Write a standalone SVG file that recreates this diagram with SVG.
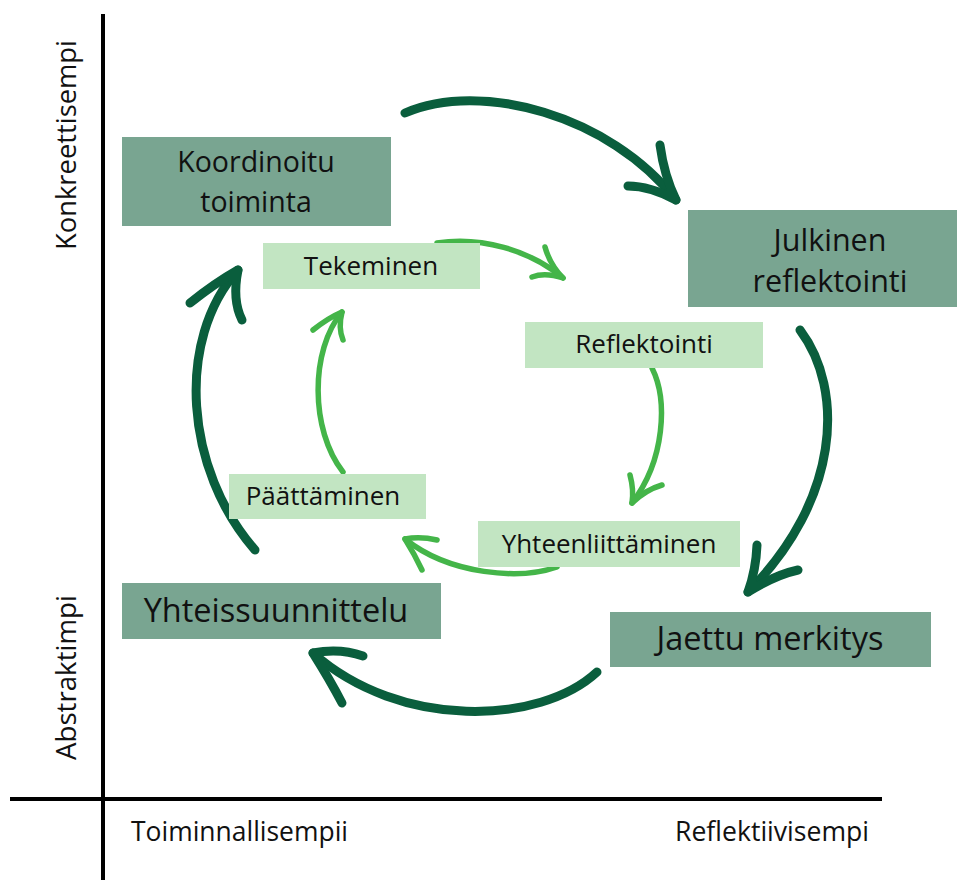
<svg xmlns="http://www.w3.org/2000/svg" width="957" height="880" viewBox="0 0 957 880">
<style>
.dark{fill:#79a591}
.light{fill:#c2e5c2}
.t{font-family:"Open Sans","Liberation Sans",sans-serif;fill:#111;text-anchor:middle}
.ax{font-family:"Open Sans","Liberation Sans",sans-serif;fill:#111;font-size:27px}
.ca{fill:none;stroke:#0a5e3d;stroke-width:9;stroke-linecap:round;stroke-linejoin:round}
.la{fill:none;stroke:#44b549;stroke-width:5.5;stroke-linecap:round;stroke-linejoin:round}
.axis{stroke:#000;stroke-width:4}
</style>
<rect width="957" height="880" fill="#fff"/>
<g id="axes">
<line class="axis" x1="103" y1="14" x2="103" y2="880"/>
<line class="axis" x1="10" y1="799" x2="882" y2="799"/>
<text class="ax" transform="translate(76,250) rotate(-90)" textLength="210" lengthAdjust="spacingAndGlyphs">Konkreettisempi</text>
<text class="ax" transform="translate(76,760) rotate(-90)" textLength="165" lengthAdjust="spacingAndGlyphs">Abstraktimpi</text>
<text class="ax" x="131" y="841" textLength="217" lengthAdjust="spacingAndGlyphs">Toiminnallisempii</text>
<text class="ax" x="675" y="841" textLength="194" lengthAdjust="spacingAndGlyphs">Reflektiivisempi</text>
</g>
<g id="connectors">
<path class="ca" d="M405,113 C480,80 610,115 676,200"/>
<path class="ca" d="M660,145 Q664,175 676,200 Q650,186 628,186"/>
<path class="ca" d="M800,330 C845,390 840,500 748,592"/>
<path class="ca" d="M757,545 Q756,570 748,592 Q775,575 798,570"/>
<path class="ca" d="M597,672 C540,725 400,730 313,653"/>
<path class="ca" d="M363,656 Q340,648 313,653 Q330,680 342,703"/>
<path class="ca" d="M255,550 C185,470 175,340 238,270"/>
<path class="ca" d="M190,303 Q215,283 238,270 Q232,300 242,320"/>
<path class="la" d="M437,243 C480,236 530,250 563,278"/>
<path class="la" d="M545,247 Q550,265 563,278 Q545,272 532,277"/>
<path class="la" d="M652,368 C668,400 665,460 632,503"/>
<path class="la" d="M630,475 Q634,490 632,503 Q645,490 662,485"/>
<path class="la" d="M557,567 C520,580 450,575 405,539"/>
<path class="la" d="M437,540 Q420,536 405,539 Q415,555 422,570"/>
<path class="la" d="M343,472 C310,430 310,350 342,312"/>
<path class="la" d="M313,330 Q328,318 342,312 Q338,328 343,340"/>
</g>
<g id="koordinoitu-toiminta">
<rect class="dark" x="122" y="137" width="269" height="89"/>
<text class="t" x="256" y="172" font-size="28.5">Koordinoitu</text>
<text class="t" x="256" y="212" font-size="28.5">toiminta</text>
</g>
<g id="julkinen-reflektointi">
<rect class="dark" x="688" y="210" width="275" height="97"/>
<text class="t" x="830" y="251" font-size="30.5">Julkinen</text>
<text class="t" x="830" y="292" font-size="30.5">reflektointi</text>
</g>
<g id="yhteissuunnittelu">
<rect class="dark" x="122" y="583" width="319" height="56"/>
<text class="t" x="276" y="622" font-size="32.5">Yhteissuunnittelu</text>
</g>
<g id="jaettu-merkitys">
<rect class="dark" x="610" y="612" width="321" height="55"/>
<text class="t" x="770" y="650" font-size="32.5">Jaettu merkitys</text>
</g>
<g id="tekeminen">
<rect class="light" x="263" y="243" width="217" height="46"/>
<text class="t" x="371" y="275" font-size="26">Tekeminen</text>
</g>
<g id="reflektointi">
<rect class="light" x="525" y="322" width="238" height="46"/>
<text class="t" x="644" y="353" font-size="26">Reflektointi</text>
</g>
<g id="paattaminen">
<rect class="light" x="229" y="474" width="197" height="45"/>
<text class="t" x="323" y="505" font-size="26">Päättäminen</text>
</g>
<g id="yhteenliittaminen">
<rect class="light" x="478" y="521" width="262" height="46"/>
<text class="t" x="609" y="553" font-size="26">Yhteenliittäminen</text>
</g>
</svg>
